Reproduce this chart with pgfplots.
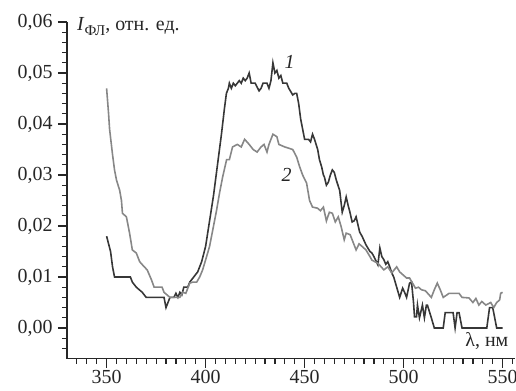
\documentclass[border=0pt]{standalone}
\usepackage{pgfplots}
\pgfplotsset{compat=1.18}
\usepackage{fontspec}
\setmainfont{Liberation Serif}
\definecolor{cdark}{RGB}{55,55,55}
\definecolor{clight}{RGB}{135,135,135}
\begin{document}
\begin{tikzpicture}
\begin{axis}[
  at={(0,0)}, anchor=south west,
  scale only axis,
  width=447.5bp, height=336.6bp,
  xmin=330, xmax=556, ymin=-0.006, ymax=0.06,
  axis lines=left,
  axis line style={-, line width=1.4pt, black!85},
  tick style={line width=1.2pt, black!85},
  tick align=outside,
  major tick length=9bp, minor tick length=5bp,
  xtick={350,400,450,500,550},
  minor xtick={335,340,345,355,360,365,370,375,380,385,390,395,405,410,415,420,425,430,435,440,445,455,460,465,470,475,480,485,490,495,505,510,515,520,525,530,535,540,545,555},
  ytick={0,0.01,0.02,0.03,0.04,0.05,0.06},
  minor ytick={-0.004,-0.002,0.002,0.004,0.006,0.008,0.012,0.014,0.016,0.018,0.022,0.024,0.026,0.028,0.032,0.034,0.036,0.038,0.042,0.044,0.046,0.048,0.052,0.054,0.056,0.058},
  scaled y ticks=false,
  yticklabel style={xshift=-2bp, /pgf/number format/.cd, fixed, fixed zerofill, precision=2, use comma},
  xticklabel style={yshift=1bp},
  /pgf/number format/assume math mode=true,
  tick label style={font=\fontsize{20}{22}\selectfont, black!85},
  clip=false,
]
\addplot[cdark, line width=1.6pt] coordinates {
(350,0.018)(352,0.015)(353,0.012)(354,0.010)(362,0.010)(363,0.009)(365,0.008)(366.5,0.0075)(368,0.007)(370,0.006)(379,0.006)(380,0.004)(382,0.006)(384,0.006)(385,0.0068)(386,0.006)(387,0.007)(388,0.0065)(389,0.008)(391,0.008)(392,0.009)(394,0.010)(396,0.011)(398,0.013)(400,0.016)(402,0.021)(404,0.026)(406,0.032)(408,0.038)(409.5,0.043)(410.5,0.046)(411.5,0.047)(412,0.048)(413,0.047)(414,0.048)(415,0.0475)(416,0.048)(417,0.0485)(418,0.048)(419,0.049)(420,0.0485)(421,0.049)(422,0.050)(423,0.048)(425,0.048)(427,0.0465)(428,0.047)(429,0.048)(431,0.048)(432,0.047)(433,0.0485)(434,0.052)(435,0.050)(436,0.0505)(437,0.049)(438,0.0495)(439,0.048)(441,0.048)(442,0.047)(444,0.0457)(445,0.046)(446,0.046)(447,0.044)(448,0.041)(449,0.039)(450,0.037)(452,0.037)(453,0.0365)(454,0.038)(455,0.037)(456.6,0.035)(457.5,0.033)(458.6,0.0316)(459.5,0.030)(460,0.0296)(461,0.028)(462,0.0286)(463,0.030)(464,0.031)(465,0.0305)(466,0.029)(467.7,0.027)(469,0.0227)(470,0.024)(471,0.0257)(472,0.024)(472.7,0.023)(474,0.0208)(475,0.021)(476,0.0218)(477.8,0.0188)(479,0.018)(481,0.0163)(483,0.015)(484,0.0147)(485,0.014)(487,0.0124)(488,0.0157)(489,0.014)(490,0.0134)(491,0.0125)(492,0.013)(493,0.012)(494,0.0108)(495,0.010)(496.5,0.008)(498,0.006)(499.5,0.0078)(500.5,0.007)(501.5,0.006)(503,0.0088)(504,0.009)(505,0.005)(505.5,0.0022)(506.5,0.0022)(507,0.0045)(508,0.002)(509.5,0.0045)(510.5,0.002)(511.5,0.0045)(512,0.0045)(514,0.002)(515.5,0.0)(520,0.0)(521,0.003)(525,0.003)(526,0.0)(527,0.003)(528,0.003)(529.5,0.0)(542,0.0)(543.4,0.004)(545,0.004)(547,0.0)(550,0.0)
};
\addplot[clight, line width=1.6pt] coordinates {
(350,0.047)(351,0.042)(351.5,0.039)(353,0.034)(354,0.031)(355,0.029)(356.6,0.027)(357.5,0.025)(358,0.0225)(360,0.0218)(361.6,0.0186)(363,0.0153)(365,0.0147)(366.7,0.013)(369,0.012)(370.5,0.0114)(372.7,0.0094)(374,0.008)(378,0.008)(379,0.007)(382,0.006)(387,0.006)(388.5,0.007)(390,0.0068)(392,0.0088)(393.5,0.009)(395.5,0.009)(397,0.010)(398.5,0.0114)(400.5,0.014)(402,0.016)(403.5,0.019)(405.5,0.023)(407,0.0264)(408.6,0.0296)(410.6,0.033)(412,0.033)(413.6,0.0355)(416,0.036)(418,0.0355)(419.7,0.037)(422,0.036)(424,0.035)(426,0.0345)(428,0.0355)(429.5,0.036)(431,0.0345)(432,0.036)(434,0.038)(436,0.0375)(437,0.036)(440,0.0355)(444,0.035)(446,0.0335)(447.5,0.0316)(449,0.030)(451,0.0284)(452.5,0.025)(454,0.0237)(456.5,0.0235)(458,0.023)(459.5,0.0237)(461,0.021)(462.5,0.0227)(464,0.0225)(465.5,0.0208)(467,0.0218)(468.5,0.0198)(470,0.0173)(471,0.0186)(473,0.0183)(476,0.0153)(477.5,0.0165)(479,0.016)(481,0.0153)(483,0.014)(484,0.0133)(487,0.0127)(490,0.0114)(492,0.012)(494,0.0108)(496.5,0.012)(498,0.011)(501.5,0.0098)(503,0.0098)(504.5,0.0088)(506,0.0078)(507.5,0.008)(509,0.0075)(511,0.0073)(514,0.006)(515.5,0.0075)(517,0.0088)(518.5,0.0075)(520,0.006)(523,0.0068)(528,0.0068)(529.5,0.006)(533,0.0059)(535,0.005)(536.5,0.0058)(538,0.0045)(539.5,0.0052)(541.5,0.0045)(544,0.005)(545.5,0.004)(547,0.005)(548.5,0.0055)(549,0.0068)(550,0.007)
};
\node[anchor=base west, inner sep=0pt, font=\fontsize{20}{22}\selectfont, black!85] at (axis cs:335,0.0584) {\textit{I}\raisebox{-0.25em}{\fontsize{15}{16}\selectfont ФЛ}, отн. ед.};
\node[anchor=base east, inner sep=0pt, font=\fontsize{20}{22}\selectfont, black!85] at (axis cs:553,-0.0037) {λ, нм};
\node[inner sep=0pt, font=\fontsize{20}{22}\selectfont\itshape, black!85] at (axis cs:442.4,0.0522) {1};
\node[inner sep=0pt, font=\fontsize{20}{22}\selectfont\itshape, black!85] at (axis cs:440.9,0.030) {2};
\end{axis}
\pgfresetboundingbox
\path[use as bounding box] (-67bp,-32.4bp) rectangle (449bp,358.6bp);
\end{tikzpicture}
\end{document}
